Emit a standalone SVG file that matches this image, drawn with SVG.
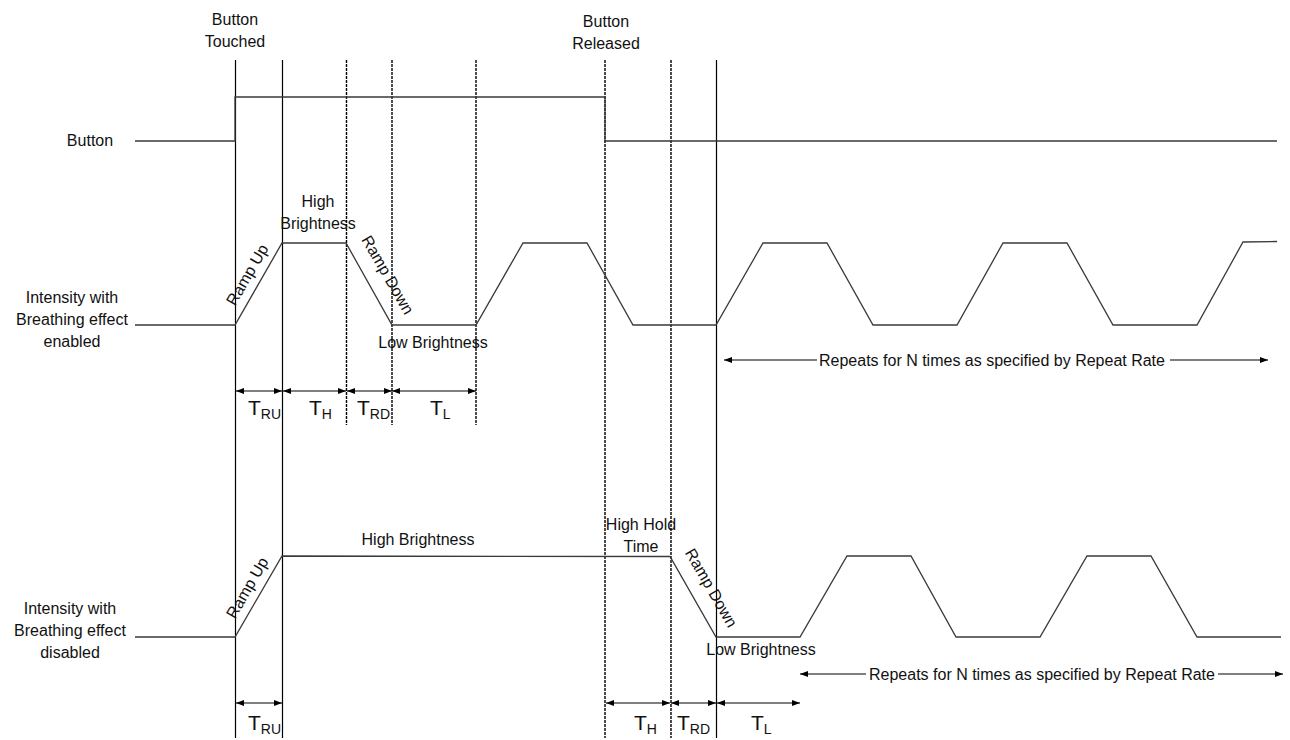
<svg xmlns="http://www.w3.org/2000/svg" width="1290" height="740" viewBox="0 0 1290 740">
<style>
text{font-family:"Liberation Sans",Arial,sans-serif;font-size:16px;fill:#111}
.c{text-anchor:middle}
.T{font-size:21px}
.s{font-size:14px}
.v{stroke:#000;stroke-width:1.2;fill:none}
.d{stroke:#000;stroke-width:1.4;fill:none;stroke-dasharray:3 1}
.w{stroke:#3a3a3a;stroke-width:1.3;fill:none}
.a{stroke:#000;stroke-width:1.2;fill:none;marker-start:url(#ah);marker-end:url(#ah)}
</style>
<defs>
<marker id="ah" markerUnits="userSpaceOnUse" markerWidth="9" markerHeight="7" refX="8" refY="3" orient="auto-start-reverse"><path d="M0,0 L8,3 L0,6 z" fill="#000"/></marker>
</defs>
<rect width="1290" height="740" fill="#fff"/>

<g id="markers">
<line class="v" x1="235.5" y1="60" x2="235.5" y2="738"/>
<line class="v" x1="282.5" y1="60" x2="282.5" y2="738"/>
<line class="d" x1="346.5" y1="60" x2="346.5" y2="425"/>
<line class="d" x1="392" y1="60" x2="392" y2="425"/>
<line class="d" x1="476" y1="60" x2="476" y2="425"/>
<line class="d" x1="605" y1="60" x2="605" y2="738"/>
<line class="d" x1="671" y1="60" x2="671" y2="738"/>
<line class="v" x1="716.5" y1="60" x2="716.5" y2="738"/>
</g>

<g id="event-labels">
<text class="c" x="235" y="25">Button</text>
<text class="c" x="235" y="47">Touched</text>
<text class="c" x="606" y="27">Button</text>
<text class="c" x="606" y="49">Released</text>
</g>

<g id="button">
<text class="c" x="90" y="146">Button</text>
<polyline class="w" points="135,141 235,141 235,97 605,97 605,141 1277,141"/>
</g>

<g id="enabled">
<text class="c" x="72" y="303">Intensity with</text>
<text class="c" x="72" y="325">Breathing effect</text>
<text class="c" x="72" y="347">enabled</text>
<polyline class="w" points="135,325 235,325 282,243 346,243 392,325 476,325 523,243 587,243 633,325 716,325 763,243 827,243 873,325 957,325 1003,243 1067,243 1113,325 1197,325 1243,242 1277,241.5"/>
<text class="c" x="318" y="207">High</text>
<text class="c" x="318" y="229">Brightness</text>
<text class="c" transform="translate(252,277.5) rotate(-60)">Ramp Up</text>
<text class="c" transform="translate(383,277.5) rotate(60)">Ramp Down</text>
<text class="c" x="433" y="348">Low Brightness</text>
<text class="c" x="992" y="366">Repeats for N times as specified by Repeat Rate</text>
</g>

<g id="disabled">
<text class="c" x="70" y="614">Intensity with</text>
<text class="c" x="70" y="636">Breathing effect</text>
<text class="c" x="70" y="658">disabled</text>
<polyline class="w" points="135,637 235,637 282,556 670,556.5 716,637 800,637 847,556 911,556 956,637 1040,637 1087,556 1151,556 1197,637 1281,637"/>
<text class="c" x="418" y="545">High Brightness</text>
<text class="c" x="641" y="530">High Hold</text>
<text class="c" x="641" y="552">Time</text>
<text class="c" transform="translate(252,590.5) rotate(-60)">Ramp Up</text>
<text class="c" transform="translate(706.5,590.5) rotate(60)">Ramp Down</text>
<text class="c" x="761" y="655">Low Brightness</text>
<text class="c" x="1042" y="680">Repeats for N times as specified by Repeat Rate</text>
</g>

<g id="connectors">
<line class="a" x1="236" y1="391" x2="282" y2="391"/>
<line class="a" x1="283" y1="391" x2="346" y2="391"/>
<line class="a" x1="347" y1="391" x2="392" y2="391"/>
<line class="a" x1="392" y1="391" x2="476" y2="391"/>
<line stroke="#000" stroke-width="1.2" x1="724" y1="360" x2="817" y2="360" marker-start="url(#ah)"/>
<line stroke="#000" stroke-width="1.2" x1="1170" y1="360" x2="1268" y2="360" marker-end="url(#ah)"/>
<line class="a" x1="236" y1="703" x2="282" y2="703"/>
<line class="a" x1="606" y1="703" x2="670" y2="703"/>
<line class="a" x1="671" y1="703" x2="716" y2="703"/>
<line class="a" x1="717" y1="703" x2="800" y2="703"/>
<line stroke="#000" stroke-width="1.2" x1="800" y1="674" x2="866" y2="674" marker-start="url(#ah)"/>
<line stroke="#000" stroke-width="1.2" x1="1218" y1="674" x2="1283" y2="674" marker-end="url(#ah)"/>
</g>

<g id="durations">
<text x="248" y="415"><tspan class="T">T</tspan><tspan class="s" dy="4">RU</tspan></text>
<text x="309" y="415"><tspan class="T">T</tspan><tspan class="s" dy="4">H</tspan></text>
<text x="357" y="415"><tspan class="T">T</tspan><tspan class="s" dy="4">RD</tspan></text>
<text x="430" y="415"><tspan class="T">T</tspan><tspan class="s" dy="4">L</tspan></text>
<text x="248" y="730"><tspan class="T">T</tspan><tspan class="s" dy="4">RU</tspan></text>
<text x="634" y="730"><tspan class="T">T</tspan><tspan class="s" dy="4">H</tspan></text>
<text x="677" y="730"><tspan class="T">T</tspan><tspan class="s" dy="4">RD</tspan></text>
<text x="751" y="730"><tspan class="T">T</tspan><tspan class="s" dy="4">L</tspan></text>
</g>
</svg>
